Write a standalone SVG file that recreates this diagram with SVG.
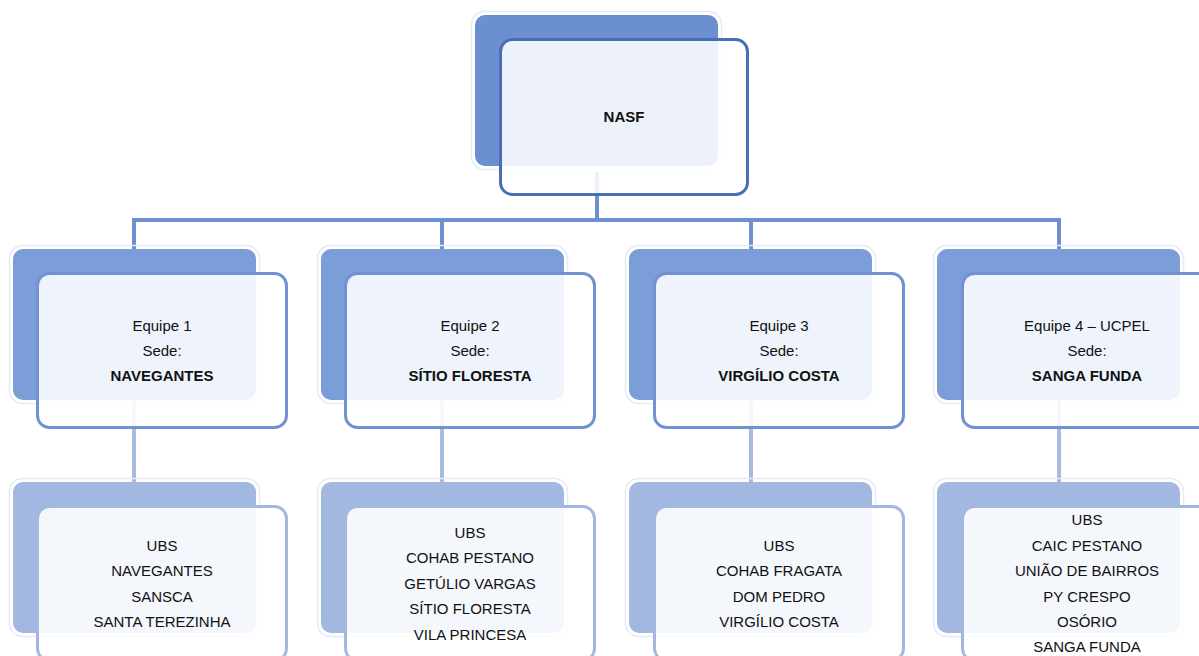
<svg xmlns="http://www.w3.org/2000/svg" width="1199" height="656" viewBox="0 0 1199 656">
<style>
text{font-family:"Liberation Sans",Arial,sans-serif;font-size:15px;fill:#111;text-anchor:middle}
.b{font-weight:bold}
.halo{fill:none;stroke:#e4eaf6;stroke-width:1.5}
.front{fill:#fff;fill-opacity:0.88;stroke-width:3}
.back0{fill:#6b8fd0}
.back1{fill:#7b9dd8}
.back2{fill:#a2b8e0}
.f0{stroke:#4a6db8}
.f1{stroke:#7191d2}
.f2{stroke:#a3b7df}
.c1{stroke:#6e8fd0;stroke-width:4;fill:none}
.c2{stroke:#a6bae2;stroke-width:4;fill:none}
</style>
<rect width="1199" height="656" fill="#fff"/>
<g id="connectors">
<path class="c1" d="M597 172V220M134 249V220H1059V249M442 220V249M751 220V249"/>
<path class="c2" d="M134 400V482M442 400V482M751 400V482M1059 400V482"/>
</g>
<g id="nasf">
<rect class="halo" x="471.5" y="11.5" width="250" height="158" rx="13"/>
<rect class="back0" x="475" y="15" width="243" height="151" rx="10"/>
<rect class="front f0" x="500.5" y="39.5" width="247" height="155" rx="12"/>
<text class="b" x="624" y="122">NASF</text>
</g>
<g id="equipe1">
<rect class="halo" x="9.5" y="245.5" width="250" height="158" rx="13"/>
<rect class="back1" x="13" y="249" width="243" height="151" rx="10"/>
<rect class="front f1" x="37.5" y="273.5" width="249" height="154" rx="12"/>
<text x="162" y="330.5">Equipe 1</text>
<text x="162" y="355.5">Sede:</text>
<text class="b" x="162" y="381">NAVEGANTES</text>
</g>
<g id="equipe2">
<rect class="halo" x="317.5" y="245.5" width="250" height="158" rx="13"/>
<rect class="back1" x="321" y="249" width="243" height="151" rx="10"/>
<rect class="front f1" x="345.5" y="273.5" width="249" height="154" rx="12"/>
<text x="470" y="330.5">Equipe 2</text>
<text x="470" y="355.5">Sede:</text>
<text class="b" x="470" y="381">SÍTIO FLORESTA</text>
</g>
<g id="equipe3">
<rect class="halo" x="625.5" y="245.5" width="250" height="158" rx="13"/>
<rect class="back1" x="629" y="249" width="243" height="151" rx="10"/>
<rect class="front f1" x="654.5" y="273.5" width="249" height="154" rx="12"/>
<text x="779" y="330.5">Equipe 3</text>
<text x="779" y="355.5">Sede:</text>
<text class="b" x="779" y="381">VIRGÍLIO COSTA</text>
</g>
<g id="equipe4">
<rect class="halo" x="933.5" y="245.5" width="250" height="158" rx="13"/>
<rect class="back1" x="937" y="249" width="243" height="151" rx="10"/>
<rect class="front f1" x="962.5" y="273.5" width="249" height="154" rx="12"/>
<text x="1087" y="330.5">Equipe 4 – UCPEL</text>
<text x="1087" y="355.5">Sede:</text>
<text class="b" x="1087" y="381">SANGA FUNDA</text>
</g>
<g id="ubs1">
<rect class="halo" x="9.5" y="478.5" width="250" height="158" rx="13"/>
<rect class="back2" x="13" y="482" width="243" height="151" rx="10"/>
<rect class="front f2" x="37.5" y="506.5" width="249" height="154" rx="12"/>
<text x="162" y="550.5">UBS</text>
<text x="162" y="576">NAVEGANTES</text>
<text x="162" y="601.5">SANSCA</text>
<text x="162" y="627">SANTA TEREZINHA</text>
</g>
<g id="ubs2">
<rect class="halo" x="317.5" y="478.5" width="250" height="158" rx="13"/>
<rect class="back2" x="321" y="482" width="243" height="151" rx="10"/>
<rect class="front f2" x="345.5" y="506.5" width="249" height="154" rx="12"/>
<text x="470" y="537.5">UBS</text>
<text x="470" y="563">COHAB PESTANO</text>
<text x="470" y="588.5">GETÚLIO VARGAS</text>
<text x="470" y="614">SÍTIO FLORESTA</text>
<text x="470" y="639.5">VILA PRINCESA</text>
</g>
<g id="ubs3">
<rect class="halo" x="625.5" y="478.5" width="250" height="158" rx="13"/>
<rect class="back2" x="629" y="482" width="243" height="151" rx="10"/>
<rect class="front f2" x="654.5" y="506.5" width="249" height="154" rx="12"/>
<text x="779" y="550.5">UBS</text>
<text x="779" y="576">COHAB FRAGATA</text>
<text x="779" y="601.5">DOM PEDRO</text>
<text x="779" y="627">VIRGÍLIO COSTA</text>
</g>
<g id="ubs4">
<rect class="halo" x="933.5" y="478.5" width="250" height="158" rx="13"/>
<rect class="back2" x="937" y="482" width="243" height="151" rx="10"/>
<rect class="front f2" x="962.5" y="506.5" width="249" height="154" rx="12"/>
<text x="1087" y="525">UBS</text>
<text x="1087" y="550.5">CAIC PESTANO</text>
<text x="1087" y="576">UNIÃO DE BAIRROS</text>
<text x="1087" y="601.5">PY CRESPO</text>
<text x="1087" y="627">OSÓRIO</text>
<text x="1087" y="652">SANGA FUNDA</text>
</g>
</svg>
